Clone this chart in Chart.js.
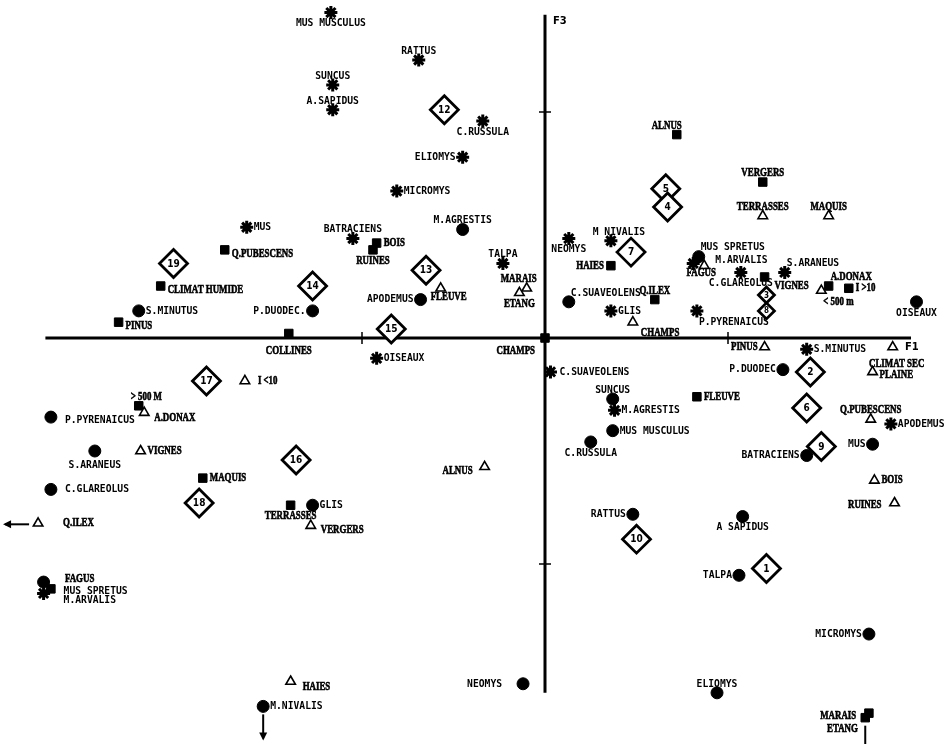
<!DOCTYPE html>
<html>
<head>
<meta charset="utf-8">
<script src="https://cdn.jsdelivr.net/npm/chart.js@4.4.0/dist/chart.umd.min.js"></script>
<style>
  html,body{margin:0;padding:0;background:#fff}
  canvas{display:block}
</style>
</head>
<body>
<canvas id="afc" width="947" height="744"></canvas>
<script>
// ====== données (F1 horizontal, F3 vertical) ======
const starNames = ['MUS MUSCULUS','RATTUS','SUNCUS','A.SAPIDUS','C.RUSSULA','ELIOMYS','MICROMYS','MUS','BATRACIENS','TALPA',
  'OISEAUX','NEOMYS','M NIVALIS','GLIS','M.ARVALIS','C.GLAREOLUS','S.ARANEUS','P.PYRENAICUS','S.MINUTUS','APODEMUS',
  'C.SUAVEOLENS','M.AGRESTIS','M.ARVALIS'];
const starF1 = [-1.17,-0.69,-1.16,-1.16,-0.34,-0.45,-0.81,-1.63,-1.05,-0.23,-0.92,0.13,0.36,0.36,0.81,1.07,1.31,0.83,1.43,1.89,0.03,0.38,-2.74];
const starF3 = [1.44,1.23,1.12,1.01,0.96,0.80,0.65,0.49,0.44,0.33,-0.09,0.44,0.43,0.12,0.33,0.29,0.29,0.12,-0.05,-0.38,-0.15,-0.32,-1.13];

const circleNames = ['M.AGRESTIS','APODEMUS','P.DUODEC.','S.MINUTUS','C.SUAVEOLENS','MUS SPRETUS','OISEAUX','P.DUODEC','SUNCUS','MUS MUSCULUS',
  'C.RUSSULA','BATRACIENS','MUS','A SAPIDUS','RATTUS','TALPA','MICROMYS','ELIOMYS','NEOMYS','M.NIVALIS',
  'GLIS','C.GLAREOLUS','S.ARANEUS','P.PYRENAICUS','MUS SPRETUS'];
const circleF1 = [-0.45,-0.68,-1.27,-2.22,0.13,0.84,2.03,1.30,0.37,0.37,0.25,1.43,1.79,1.08,0.48,1.06,1.77,0.94,-0.12,-1.54,-1.27,-2.70,-2.46,-2.70,-2.74];
const circleF3 = [0.48,0.17,0.12,0.12,0.16,0.36,0.16,-0.14,-0.27,-0.41,-0.46,-0.52,-0.47,-0.79,-0.78,-1.05,-1.31,-1.57,-1.53,-1.63,-0.74,-0.67,-0.50,-0.35,-1.08];

const squareNames = ['BOIS','RUINES','Q.PUBESCENS','CLIMAT HUMIDE','PINUS','COLLINES','CHAMPS','HAIES','Q.ILEX','ALNUS',
  'VERGERS','VIGNES','A.DONAX','I >10','FLEUVE','> 500 M','MAQUIS','TERRASSES','FAGUS','MARAIS','ETANG'];
const squareF1 = [-0.92,-0.94,-1.75,-2.10,-2.33,-1.40,0,0.36,0.60,0.72,1.19,1.20,1.55,1.66,0.83,-2.22,-1.87,-1.39,-2.70,1.75,1.77];
const squareF3 = [0.42,0.39,0.39,0.23,0.07,0.02,0,0.32,0.17,0.90,0.69,0.27,0.23,0.22,-0.26,-0.30,-0.62,-0.74,-1.11,-1.68,-1.66];

const triNames = ['FLEUVE','MARAIS','ETANG','CHAMPS','FAGUS','< 500 m','TERRASSES','MAQUIS','PINUS','CLIMAT SEC',
  'PLAINE','Q.PUBESCENS','BOIS','RUINES','I <10','A.DONAX','VIGNES','VERGERS','ALNUS','Q.ILEX','HAIES'];
const triF1 = [-0.57,-0.10,-0.14,0.48,0.87,1.51,1.19,1.55,1.20,1.90,1.79,1.78,1.80,1.91,-1.64,-2.19,-2.21,-1.28,-0.33,-2.77,-1.39];
const triF3 = [0.22,0.22,0.20,0.07,0.32,0.21,0.54,0.54,-0.04,-0.04,-0.15,-0.36,-0.63,-0.73,-0.19,-0.33,-0.50,-0.83,-0.57,-0.82,-1.52];

const stations = ['12','5','4','7','19','14','13','15','3','8','17','2','6','9','16','18','10','1'];
const stationF1 = [-0.55,0.66,0.67,0.47,-2.03,-1.27,-0.65,-0.84,1.21,1.21,-1.85,1.45,1.43,1.51,-1.36,-1.89,0.50,1.21];
const stationF3 = [1.01,0.66,0.58,0.38,0.33,0.23,0.30,0.04,0.19,0.12,-0.19,-0.15,-0.31,-0.48,-0.54,-0.73,-0.89,-1.02];
const smallStations = ['3','8'];

// axes
const f1Extent = [-2.73, 2.0];
const f3Extent = [-1.57, 1.43];
const tickValues = [-1, 1];

// ====== placement des étiquettes (ancre, décalage x, décalage y) ======
const starAnchors = ['b','t','t','t','b','l','r','r','t','t','r','b',['t',8,0],'r',['r',15,-3],'b','tr','br','r','r',['r',2,0],'r',['r',13,7]];
const circleAnchors = ['t','l','l','r','tr','tr','b','l','t','r','b','l','l','b','l','l','l','t',['l',-14,0],'r',
  'r',['r',7,0],['b',0,3],['r',7,3],['r',13,9]];
const squareAnchors = ['r','b',['r',0,4],['r',0,4],['r',0,4],['b',0,6],['bl',-8,2],'l','t',['t',-10,0],
  't',['br',8,-2],'tr','r','r',['tr',-10,0],'r','b',['r',7,-10],['l',-2,-2],['l',-4,16]];
const triAnchors = [['b',8,-2],['t',-8,0],'b',['br',6,0],['b',-3,-4],'br','t','t','l',['b',4,6],
  ['r',0,3],'t','r',['l',-6,2],['r',6,0],['r',3,5],'r',['r',3,4],['l',-5,4],['r',18,0],['r',5,5]];

// points hors cadre (flèches)
const offChart = [
  {set:'triangles', name:'Q.ILEX', dir:'left', head:true},
  {set:'circles', name:'M.NIVALIS', dir:'down', head:true},
  {set:'squares', name:'MARAIS', dir:'down', head:false}
];

const mk = (names,f1,f3)=>names.map((n,i)=>({x:f1[i], y:f3[i], name:n}));

const FONT_SP = {font:'bold 11px "DejaVu Sans Mono"', sx:0.88, stroke:0};
const FONT_ENV = {font:'bold 12px "Liberation Serif"', sx:0.74, stroke:0.6};

function drawText(ctx, str, x, y, align, f){
  ctx.save();
  ctx.font = f.font; ctx.textBaseline = 'middle'; ctx.textAlign = 'left'; ctx.fillStyle = '#000';
  const w = ctx.measureText(str).width * f.sx;
  const left = align==='left' ? x : align==='right' ? x - w : x - w/2;
  ctx.translate(left, y); ctx.scale(f.sx, 1);
  ctx.fillText(str, 0, 0);
  if(f.stroke){ ctx.strokeStyle = '#000'; ctx.lineWidth = f.stroke; ctx.strokeText(str, 0, 0); }
  ctx.restore();
}

function place(a, px, py){
  const [k, dx=0, dy=0] = Array.isArray(a) ? a : [a];
  const G = {r:[7,0,'left'], l:[-7,0,'right'], t:[0,-9,'center'], b:[0,11,'center'],
    tr:[2,-9,'left'], tl:[-2,-9,'right'], br:[2,11,'left'], bl:[-2,11,'right']}[k];
  return [px+G[0]+dx, py+G[1]+dy, G[2]];
}

/* ====== axes F1 / F3 ====== */
const axesPlugin = {
  id:'axesF1F3',
  beforeDatasetsDraw(chart){
    const {ctx, scales:{x, y}} = chart;
    const x0 = x.getPixelForValue(0), y0 = y.getPixelForValue(0);
    const xa = x.getPixelForValue(f1Extent[0]), xb = x.getPixelForValue(f1Extent[1]);
    const ya = y.getPixelForValue(f3Extent[0]), yb = y.getPixelForValue(f3Extent[1]);
    ctx.save();
    ctx.strokeStyle = '#000'; ctx.lineWidth = 3; ctx.lineCap = 'butt';
    ctx.beginPath();
    ctx.moveTo(xa, y0); ctx.lineTo(xb, y0);
    ctx.moveTo(x0, ya); ctx.lineTo(x0, yb);
    ctx.stroke();
    ctx.lineWidth = 1.5;
    ctx.beginPath();
    tickValues.forEach(v=>{
      const px = x.getPixelForValue(v), py = y.getPixelForValue(v);
      ctx.moveTo(px, y0-6); ctx.lineTo(px, y0+6);
      ctx.moveTo(x0-6, py); ctx.lineTo(x0+6, py);
    });
    ctx.stroke();
    ctx.font = 'bold 10px "DejaVu Sans"'; ctx.fillStyle = '#000'; ctx.textBaseline = 'middle';
    ctx.textAlign = 'left';
    ctx.fillText('F1', xb - 6, y0 + 9);
    ctx.fillText('F3', x0 + 8, yb + 7);
    ctx.restore();
  }
};

/* ====== étiquettes, numéros des relevés, flèches ====== */
const labelPlugin = {
  id:'labels',
  afterDatasetsDraw(chart){
    const {ctx} = chart;
    chart.data.datasets.forEach((ds, di)=>{
      const meta = chart.getDatasetMeta(di);
      meta.data.forEach((el, i)=>{
        const name = ds.data[i].name;
        if(ds.label==='stations'){
          ctx.save();
          const small = smallStations.includes(name);
          ctx.font = (small ? 'bold 8px' : 'bold 10px') + ' "DejaVu Sans Condensed", "DejaVu Sans"';
          ctx.textAlign = 'center'; ctx.textBaseline = 'middle'; ctx.fillStyle = '#000';
          ctx.fillText(name, el.x, el.y + 0.5);
          ctx.restore();
          return;
        }
        const [tx, ty, al] = place(ds.anchors[i], el.x, el.y);
        drawText(ctx, name, tx, ty, al, ds.kind==='env' ? FONT_ENV : FONT_SP);
      });
    });
    // flèches
    ctx.save();
    ctx.strokeStyle = '#000'; ctx.fillStyle = '#000'; ctx.lineWidth = 2;
    offChart.forEach(o=>{
      const di = chart.data.datasets.findIndex(d=>d.label===o.set);
      const idx = chart.data.datasets[di].data.findIndex(p=>p.name===o.name);
      const el = chart.getDatasetMeta(di).data[idx];
      let sx, sy, ex, ey;
      if(o.dir==='left'){ sx = el.x-9; sy = el.y+1; ex = sx-24; ey = sy; }
      else { sx = el.x; sy = el.y+8; ex = sx; ey = sy+24; }
      ctx.beginPath(); ctx.moveTo(sx, sy); ctx.lineTo(ex, ey); ctx.stroke();
      if(o.head){
        ctx.beginPath();
        if(o.dir==='left'){ ctx.moveTo(ex-2, ey); ctx.lineTo(ex+6, ey-4); ctx.lineTo(ex+6, ey+4); }
        else { ctx.moveTo(ex, ey+2); ctx.lineTo(ex-4, ey-6); ctx.lineTo(ex+4, ey-6); }
        ctx.closePath(); ctx.fill();
      }
    });
    ctx.restore();
  }
};

new Chart(document.getElementById('afc'), {
  type:'scatter',
  data:{
    datasets:[
      { label:'triangles', kind:'env', anchors:triAnchors, data:mk(triNames, triF1, triF3),
        pointStyle:'triangle', pointRadius:5.5, backgroundColor:'#fff', borderColor:'#000', borderWidth:1.6 },
      { label:'squares', kind:'env', anchors:squareAnchors, data:mk(squareNames, squareF1, squareF3),
        pointStyle:'rect', pointRadius:6, backgroundColor:'#000', borderColor:'#000', borderWidth:1 },
      { label:'circles', kind:'sp', anchors:circleAnchors, data:mk(circleNames, circleF1, circleF3),
        pointStyle:'circle', pointRadius:6, backgroundColor:'#000', borderColor:'#000', borderWidth:1 },
      { label:'stars', kind:'sp', anchors:starAnchors, data:mk(starNames, starF1, starF3),
        pointStyle:'star', pointRadius:6.5, backgroundColor:'#000', borderColor:'#000', borderWidth:3 },
      { label:'stations', data:mk(stations, stationF1, stationF3),
        pointStyle:'rectRot', backgroundColor:'#fff', borderColor:'#000', borderWidth:2.8,
        pointRadius: c => smallStations.includes(stations[c.dataIndex]) ? 8 : 14 }
    ].map(d=>Object.assign(d, {clip:false, pointHoverRadius:d.pointRadius}))
  },
  options:{
    responsive:false, animation:false, events:[],
    layout:{padding:0, autoPadding:false},
    plugins:{legend:{display:false}, tooltip:{enabled:false}},
    scales:{
      x:{type:'linear', display:false, min:-545/183, max:402/183},
      y:{type:'linear', display:false, min:-406/226, max:338/226}
    }
  },
  plugins:[axesPlugin, labelPlugin]
});
</script>
</body>
</html>
